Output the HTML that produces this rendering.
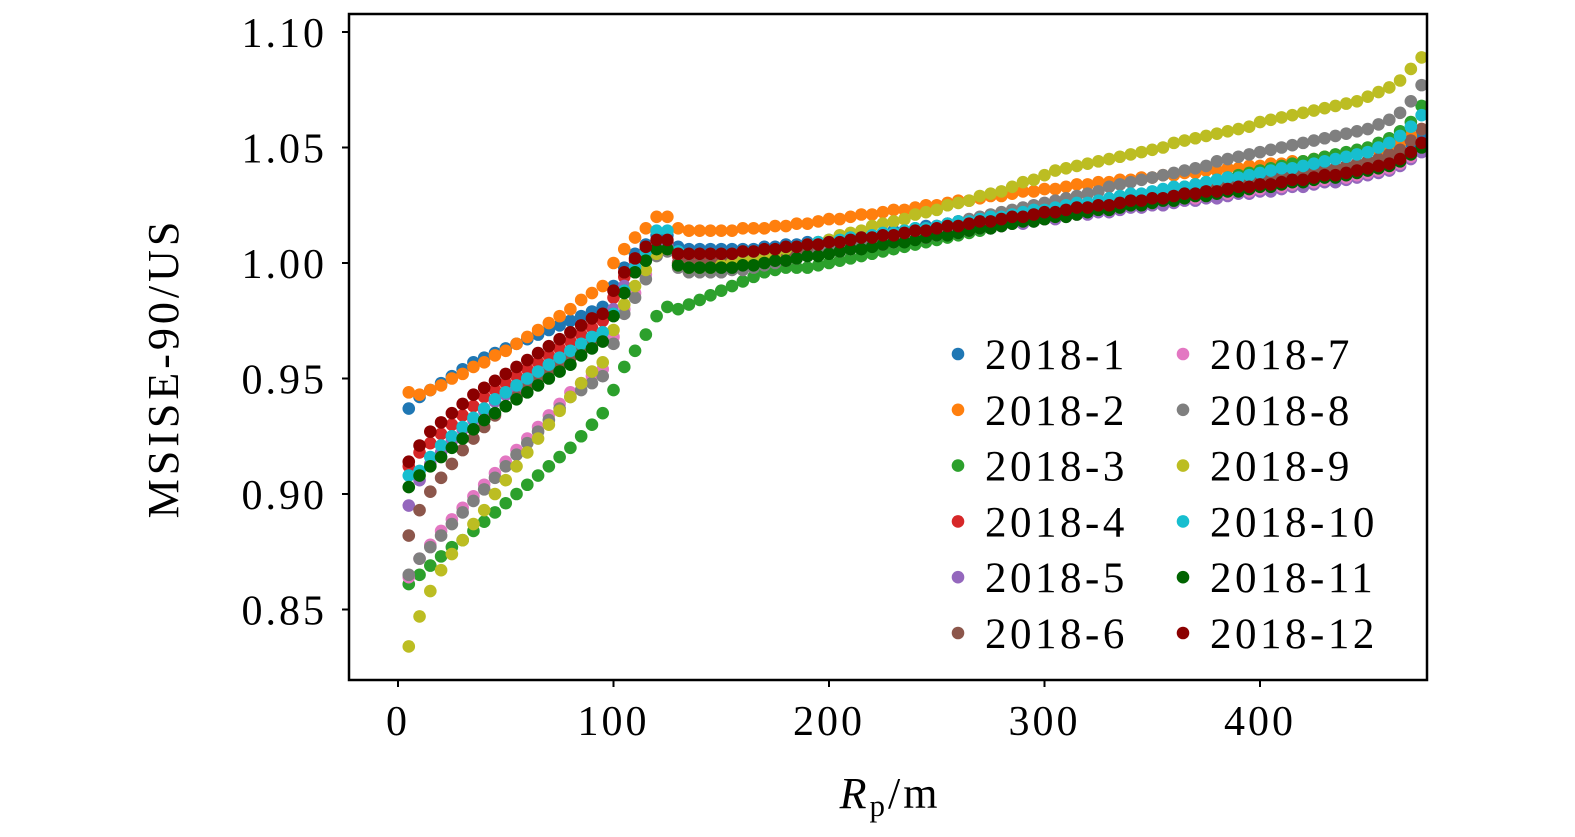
<!DOCTYPE html>
<html><head><meta charset="utf-8"><style>
html,body{margin:0;padding:0;background:#fff;width:1575px;height:837px;overflow:hidden}
svg text{font-family:"Liberation Serif",serif;fill:#000}
</style></head><body>
<svg id="chart" width="1575" height="837" xmlns="http://www.w3.org/2000/svg">
<g id="marks"></g>
<rect x="349" y="14" width="1078" height="666" fill="none" stroke="#000" stroke-width="2.5"/>
<g id="axes"></g>
<text transform="translate(178,368) rotate(-90)" text-anchor="middle" font-size="44" letter-spacing="4">MSISE-90/US</text>
<text x="890" y="808" text-anchor="middle" font-size="44" letter-spacing="3"><tspan font-style="italic">R</tspan><tspan font-size="31" dy="8">p</tspan><tspan dy="-8">/m</tspan></text>
<g id="legend"></g>
</svg>
<script>
const xTicks=[0,100,200,300,400];
const yTicks=[0.85,0.90,0.95,1.00,1.05,1.10];
const yTickLabels=["0.85","0.90","0.95","1.00","1.05","1.10"];
const seriesNames=["2018-1","2018-2","2018-3","2018-4","2018-5","2018-6","2018-7","2018-8","2018-9","2018-10","2018-11","2018-12"];
const colors=["#1f77b4","#ff7f0e","#2ca02c","#d62728","#9467bd","#8c564b","#e377c2","#7f7f7f","#bcbd22","#17becf","#006400","#8b0000"];
const xStart=5, xStep=5;
const s1=[.937,.942,.945,.948,.951,.954,.957,.959,.961,.963,.965,.967,.969,.971,.973,.975,.977,.979,.981,
.990,.998,1.004,1.008,1.012,1.012,
1.007,1.006,1.006,1.006,1.006,1.006,1.006,1.006,1.007,1.007,
1.008,1.008,1.009,1.009,1.010,1.010,1.011,1.012,1.012,1.013,
1.014,1.014,1.015,1.016,1.016,1.017,1.018,1.018,1.019,1.020,
1.020,1.021,1.022,1.022,1.023,1.024,1.024,1.025,1.026,1.026,
1.027,1.028,1.028,1.029,1.030,1.030,1.031,1.032,1.032,1.033,
1.034,1.034,1.035,1.036,1.036,1.037,1.038,1.038,1.039,1.040,
1.041,1.041,1.042,1.043,1.044,1.045,1.047,1.049,1.052,1.056];
const s2=[.944,.943,.945,.947,.950,.952,.955,.957,.960,.962,.965,.968,.971,.974,.977,.980,.984,.987,.990,
1.000,1.006,1.011,1.015,1.020,1.020,
1.015,1.014,1.014,1.014,1.014,1.014,1.015,1.015,1.015,1.016,
1.016,1.017,1.017,1.018,1.019,1.019,1.020,1.021,1.021,1.022,
1.023,1.023,1.024,1.025,1.025,1.026,1.027,1.027,1.028,1.029,
1.029,1.030,1.031,1.031,1.032,1.032,1.033,1.034,1.034,1.035,
1.035,1.036,1.036,1.037,1.037,1.038,1.038,1.039,1.039,1.040,
1.040,1.041,1.041,1.042,1.042,1.043,1.043,1.044,1.044,1.045,
1.046,1.046,1.047,1.048,1.048,1.049,1.050,1.052,1.055,1.058];
const s3=[.861,.865,.869,.873,.877,.880,.884,.888,.892,.896,.900,.904,.908,.912,.916,.920,.925,.930,.935,
.945,.955,.962,.969,.977,.981,
.980,.982,.984,.986,.988,.990,.992,.994,.996,.997,
.998,.998,.998,.999,1.000,1.001,1.002,1.003,1.004,1.005,
1.006,1.007,1.008,1.009,1.010,1.011,1.012,1.013,1.014,1.015,
1.016,1.017,1.018,1.019,1.020,1.021,1.022,1.023,1.024,1.025,
1.026,1.027,1.028,1.029,1.030,1.031,1.032,1.033,1.034,1.035,
1.036,1.037,1.038,1.039,1.040,1.041,1.042,1.043,1.044,1.045,
1.046,1.047,1.048,1.049,1.050,1.052,1.054,1.057,1.061,1.068];
const s4=[.912,.918,.922,.926,.930,.934,.938,.942,.945,.948,.951,.954,.957,.960,.963,.966,.969,.972,.975,
.985,.994,1.001,1.006,1.009,1.009,
1.003,1.003,1.003,1.003,1.003,1.003,1.004,1.004,1.005,1.005,
1.006,1.006,1.007,1.007,1.008,1.009,1.009,1.010,1.011,1.011,
1.012,1.013,1.013,1.014,1.015,1.015,1.016,1.017,1.017,1.018,
1.019,1.019,1.020,1.021,1.021,1.022,1.023,1.023,1.024,1.025,
1.025,1.026,1.026,1.027,1.028,1.028,1.029,1.030,1.030,1.031,
1.032,1.032,1.033,1.033,1.034,1.035,1.035,1.036,1.037,1.037,
1.038,1.039,1.039,1.040,1.041,1.042,1.043,1.045,1.048,1.052];
const s5=[.895,.906,.913,.918,.923,.928,.932,.936,.940,.943,.946,.949,.952,.955,.958,.961,.964,.967,.970,
.980,.990,.998,1.003,1.007,1.007,
1.000,.999,.999,.999,.999,1.000,1.000,1.001,1.001,1.002,
1.003,1.003,1.004,1.005,1.005,1.006,1.007,1.007,1.008,1.009,
1.009,1.010,1.011,1.011,1.012,1.013,1.013,1.014,1.015,1.015,
1.016,1.017,1.017,1.018,1.019,1.019,1.020,1.021,1.021,1.022,
1.022,1.023,1.024,1.024,1.025,1.025,1.026,1.027,1.027,1.028,
1.028,1.029,1.030,1.030,1.031,1.031,1.032,1.033,1.033,1.034,
1.035,1.035,1.036,1.037,1.038,1.039,1.040,1.042,1.045,1.048];
const s6=[.882,.893,.901,.907,.913,.919,.924,.929,.934,.938,.942,.946,.950,.953,.956,.959,.962,.965,.968,
.978,.988,.996,1.002,1.006,1.006,
1.000,1.000,1.000,1.000,1.000,1.001,1.001,1.002,1.002,1.003,
1.004,1.004,1.005,1.006,1.006,1.007,1.008,1.008,1.009,1.010,
1.011,1.011,1.012,1.013,1.013,1.014,1.015,1.016,1.016,1.017,
1.018,1.019,1.019,1.020,1.021,1.022,1.022,1.023,1.024,1.025,
1.025,1.026,1.027,1.028,1.028,1.029,1.030,1.030,1.031,1.032,
1.033,1.033,1.034,1.035,1.035,1.036,1.037,1.038,1.038,1.039,
1.040,1.041,1.042,1.043,1.044,1.045,1.047,1.049,1.053,1.058];
const s7=[.864,.872,.878,.884,.889,.894,.899,.904,.909,.914,.919,.924,.929,.934,.939,.944,.948,.951,.954,
.968,.980,.987,.995,1.004,1.006,
.999,.998,.997,.997,.997,.998,.998,.999,1.000,1.001,
1.001,1.002,1.003,1.004,1.005,1.005,1.006,1.007,1.008,1.008,
1.009,1.010,1.011,1.011,1.012,1.013,1.014,1.014,1.015,1.016,
1.016,1.017,1.018,1.019,1.019,1.020,1.021,1.021,1.022,1.023,
1.023,1.024,1.025,1.025,1.026,1.027,1.027,1.028,1.028,1.029,
1.030,1.030,1.031,1.031,1.032,1.033,1.033,1.034,1.035,1.035,
1.036,1.037,1.037,1.038,1.039,1.040,1.041,1.043,1.046,1.050];
const s8=[.865,.872,.877,.882,.887,.892,.897,.902,.907,.912,.917,.922,.927,.932,.937,.942,.945,.948,.951,
.965,.978,.985,.993,1.003,1.005,
.998,.996,.996,.996,.996,.997,.997,.998,.999,1.000,
1.001,1.002,1.003,1.004,1.005,1.006,1.007,1.008,1.009,1.010,
1.012,1.013,1.014,1.015,1.016,1.017,1.018,1.019,1.020,1.021,
1.022,1.023,1.024,1.025,1.026,1.027,1.028,1.029,1.030,1.031,
1.033,1.034,1.035,1.036,1.037,1.038,1.039,1.040,1.041,1.042,
1.044,1.045,1.046,1.047,1.048,1.049,1.050,1.051,1.052,1.053,
1.054,1.055,1.056,1.057,1.058,1.060,1.062,1.065,1.070,1.077];
const s9=[.834,.847,.858,.867,.874,.880,.887,.893,.900,.906,.912,.918,.924,.930,.936,.942,.948,.953,.957,
.971,.982,.990,.997,1.004,1.006,
.999,.998,.998,.998,.999,1.000,1.001,1.002,1.003,1.004,
1.006,1.007,1.008,1.009,1.010,1.012,1.013,1.014,1.016,1.017,
1.018,1.019,1.021,1.022,1.023,1.025,1.026,1.027,1.029,1.030,
1.031,1.033,1.035,1.036,1.038,1.040,1.041,1.042,1.043,1.044,
1.045,1.046,1.047,1.048,1.049,1.050,1.052,1.053,1.054,1.055,
1.056,1.057,1.058,1.059,1.061,1.062,1.063,1.064,1.065,1.066,
1.067,1.068,1.069,1.070,1.072,1.074,1.076,1.079,1.084,1.089];
const s10=[.908,.910,.916,.921,.925,.929,.933,.937,.941,.944,.947,.950,.953,.956,.959,.962,.965,.968,.970,
.978,.988,.998,1.005,1.014,1.014,
1.005,1.004,1.004,1.004,1.004,1.004,1.005,1.005,1.006,1.006,
1.007,1.007,1.008,1.009,1.009,1.010,1.011,1.011,1.012,1.013,
1.013,1.014,1.015,1.015,1.016,1.017,1.018,1.018,1.019,1.020,
1.020,1.021,1.022,1.023,1.023,1.024,1.025,1.026,1.026,1.027,
1.028,1.029,1.030,1.030,1.031,1.032,1.033,1.033,1.034,1.035,
1.036,1.037,1.037,1.038,1.039,1.040,1.041,1.041,1.042,1.043,
1.044,1.045,1.046,1.047,1.048,1.050,1.052,1.055,1.059,1.064];
const s11=[.903,.908,.912,.916,.920,.924,.928,.932,.935,.938,.941,.944,.947,.950,.953,.956,.960,.963,.966,
.977,.987,.996,1.001,1.006,1.006,
.999,.998,.998,.998,.998,.998,.999,.999,1.000,1.001,
1.001,1.002,1.003,1.003,1.004,1.005,1.006,1.006,1.007,1.008,
1.009,1.009,1.010,1.011,1.012,1.012,1.013,1.014,1.015,1.015,
1.016,1.017,1.018,1.018,1.019,1.020,1.020,1.021,1.022,1.023,
1.023,1.024,1.025,1.025,1.026,1.027,1.027,1.028,1.029,1.029,
1.030,1.031,1.031,1.032,1.033,1.033,1.034,1.035,1.035,1.036,
1.037,1.037,1.038,1.039,1.040,1.041,1.042,1.044,1.047,1.050];
const s12=[.914,.921,.927,.931,.935,.939,.943,.946,.949,.952,.955,.958,.961,.964,.967,.970,.973,.976,.978,
.988,.996,1.002,1.007,1.010,1.010,
1.004,1.004,1.004,1.004,1.004,1.004,1.005,1.005,1.006,1.006,
1.007,1.007,1.008,1.008,1.009,1.009,1.010,1.011,1.011,1.012,
1.012,1.013,1.014,1.014,1.015,1.016,1.016,1.017,1.018,1.018,
1.019,1.020,1.020,1.021,1.022,1.022,1.023,1.024,1.024,1.025,
1.025,1.026,1.027,1.027,1.028,1.028,1.029,1.030,1.030,1.031,
1.031,1.032,1.033,1.033,1.034,1.034,1.035,1.036,1.036,1.037,
1.038,1.038,1.039,1.040,1.041,1.042,1.043,1.045,1.048,1.052];
const allSeries=[s1,s2,s3,s4,s5,s6,s7,s8,s9,s10,s11,s12];

const NS="http://www.w3.org/2000/svg";
function xScale(x){return 398+x*2.155;}
function yScale(v){return 263-(v-1)*2310;}
function mk(tag,attrs,parent){const e=document.createElementNS(NS,tag);for(const k in attrs)e.setAttribute(k,attrs[k]);parent.appendChild(e);return e;}

const marks=document.getElementById('marks');
allSeries.forEach((arr,si)=>{
  const g=mk('g',{fill:colors[si]},marks);
  
  
  arr.forEach((v,i)=>{
    const c=mk('circle',{cx:xScale(xStart+i*xStep),cy:yScale(v),r:6.3},g);
    
    
  });
});

const axes=document.getElementById('axes');
xTicks.forEach(t=>{
  const x=xScale(t);
  const l=mk('line',{x1:x,x2:x,y1:680,y2:687,stroke:'#000','stroke-width':2},axes);
  
  
  const tx=mk('text',{x:x,y:735,'text-anchor':'middle','font-size':42,'letter-spacing':3},axes);
  tx.textContent=String(t);
  
  
});
yTicks.forEach((t,i)=>{
  const y=yScale(t);
  const l=mk('line',{x1:342,x2:349,y1:y,y2:y,stroke:'#000','stroke-width':2},axes);
  
  
  const tx=mk('text',{x:327,y:y+15,'text-anchor':'end','font-size':42,'letter-spacing':3},axes);
  tx.textContent=yTickLabels[i];
  
  
});

const legend=document.getElementById('legend');
seriesNames.forEach((n,i)=>{
  const col=Math.floor(i/6), row=i%6;
  const bx=958+col*225, by=354+row*55.8;
  const g=mk('g',{},legend);
  
  
  mk('circle',{cx:bx,cy:by,r:6.3,fill:colors[i]},g);
  const t=mk('text',{x:bx+27,y:by+15,'font-size':43,'letter-spacing':3.5},g);
  t.textContent=n;
});
</script>
</body></html>
